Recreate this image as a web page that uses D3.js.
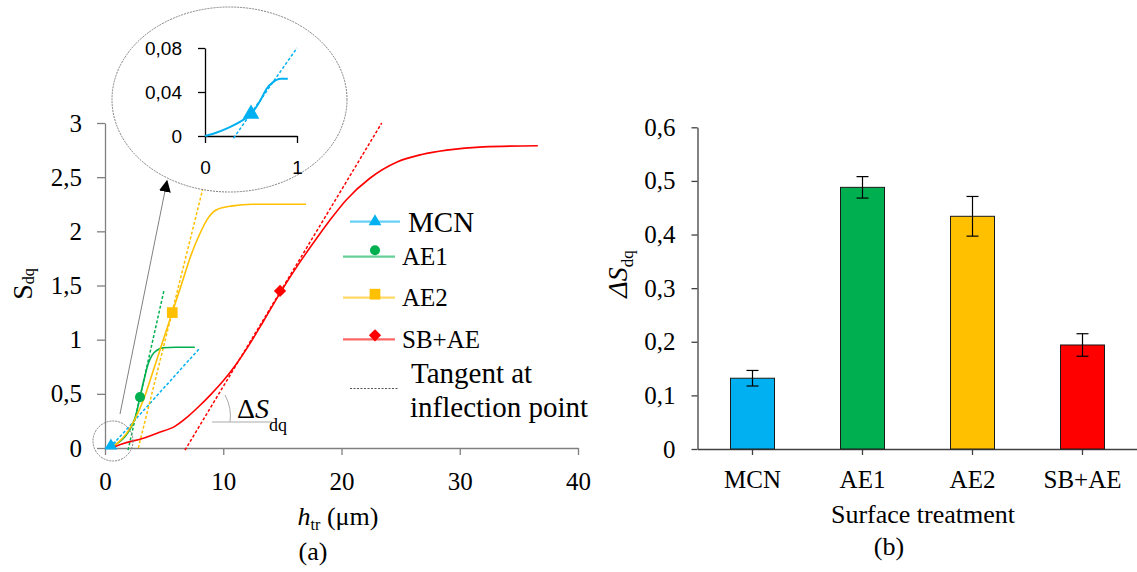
<!DOCTYPE html>
<html>
<head>
<meta charset="utf-8">
<script src="https://cdn.jsdelivr.net/npm/d3@7"></script>
<style>
  body { margin: 0; background: #fff; }
  svg text { font-family: "Liberation Serif", "Times New Roman", serif; }
  svg .inset text { font-family: "Liberation Sans", Arial, sans-serif; }
</style>
</head>
<body>
<script>
// ---- (a) Sdq curves ----
let mcnX = [0, 0.12, 0.24, 0.36, 0.5, 0.6, 0.67, 0.74, 0.82, 0.9]
let mcnY = [0, 0.003, 0.007, 0.012, 0.02, 0.032, 0.043, 0.049, 0.052, 0.052]
let ae1X = [0.5, 1.0, 1.27, 1.8, 2.25, 2.6, 2.96, 3.3, 3.66, 4.0, 4.37, 4.9, 6, 7.6]
let ae1Y = [0, 0.04, 0.06, 0.12, 0.2, 0.3, 0.47, 0.63, 0.78, 0.86, 0.9, 0.925, 0.93, 0.93]
let ae2X = [0.5, 1.0, 1.83, 2.5, 3.24, 4.1, 4.93, 5.69, 6.5, 7.24, 8.03, 8.7, 9.44, 10.8, 12.5, 17]
let ae2Y = [0, 0.04, 0.135, 0.26, 0.44, 0.72, 1.0, 1.25, 1.52, 1.77, 1.98, 2.12, 2.2, 2.235, 2.25, 2.25]
let sbaeX = [0.5, 1.5, 3.24, 4.5, 5.9, 7, 8, 9, 10, 11, 12, 13.4, 14.8, 16.2, 17.6, 19, 20.4, 22.4, 24.7, 26.8, 28.9, 32, 36.6]
let sbaeY = [0, 0.04, 0.09, 0.14, 0.2, 0.29, 0.39, 0.5, 0.62, 0.76, 0.92, 1.17, 1.43, 1.67, 1.89, 2.1, 2.29, 2.49, 2.64, 2.71, 2.75, 2.78, 2.79]

// inflection points [x, y] and tangent segments [x1, y1, x2, y2]
let inflections = [[0.5, 0.02], [2.96, 0.47], [5.69, 1.25], [14.8, 1.45]]
let tangents = [[0.4, 0, 8.0, 0.92], [1.95, -0.02, 5.0, 1.46], [2.82, 0, 8.31, 2.41], [6.76, -0.02, 23.4, 3.0]]
let insetTangent = [0.31, -0.002, 1.0, 0.08]

let seriesNames = ['MCN', 'AE1', 'AE2', 'SB+AE']
let seriesColors = ['#00B0F0', '#00B050', '#FFC000', '#FF0000']

let sdqTicks = [0, 0.5, 1, 1.5, 2, 2.5, 3]
let htrTicks = [0, 10, 20, 30, 40]
let insetYTicks = [0, 0.04, 0.08]
let insetXTicks = [0, 1]

// ---- (b) delta Sdq bars ----
let treatments = ['MCN', 'AE1', 'AE2', 'SB+AE']
let deltaSdq = [0.132, 0.488, 0.434, 0.194]
let deltaErr = [0.0145, 0.02, 0.037, 0.021]
let deltaTicks = [0, 0.1, 0.2, 0.3, 0.4, 0.5, 0.6]

let comma = d3.formatLocale({ decimal: ',', thousands: '.', grouping: [3], currency: ['', ''] })
let fmt = d => comma.format('~g')(d)

let svg = d3.select('body').append('svg')
  .attr('width', 1137)
  .attr('height', 572)

function styleAxis(a, color, size) {
  a.attr('font-family', null)
  a.selectAll('path, line').attr('stroke', color).attr('stroke-width', 1.3)
  a.selectAll('text').attr('font-size', size).attr('fill', '#000')
}

/* ===== chart (a) ===== */
let x = d3.scaleLinear().domain([0, 40]).range([105, 578])
let y = d3.scaleLinear().domain([0, 3]).range([448, 123])

let series = [
  { xs: mcnX, ys: mcnY },
  { xs: ae1X, ys: ae1Y },
  { xs: ae2X, ys: ae2Y },
  { xs: sbaeX, ys: sbaeY }
]

let yAxisA = svg.append('g')
  .attr('transform', 'translate(' + x(0) + ',0)')
  .call(d3.axisLeft(y).tickValues(sdqTicks).tickFormat(fmt).tickSize(8).tickPadding(15).tickSizeOuter(0))
let xAxisA = svg.append('g')
  .attr('transform', 'translate(0,' + y(0) + ')')
  .call(d3.axisBottom(x).tickValues(htrTicks).tickSize(7).tickPadding(17).tickSizeOuter(0))
styleAxis(yAxisA, '#808080', 25)
styleAxis(xAxisA, '#808080', 25)

let line = d3.line().x(d => x(d[0])).y(d => y(d[1])).curve(d3.curveMonotoneX)

// tangents (dashed)
svg.selectAll('.tangent')
  .data(tangents)
  .enter()
  .append('line')
  .attr('x1', d => x(d[0])).attr('y1', d => y(d[1]))
  .attr('x2', d => x(d[2])).attr('y2', d => y(d[3]))
  .attr('stroke', (d, i) => seriesColors[i])
  .attr('stroke-width', 1.5)
  .attr('stroke-dasharray', '3,2')

// curves
svg.selectAll('.curve')
  .data(series)
  .enter()
  .append('path')
  .attr('d', s => line(s.xs.map((v, i) => [v, s.ys[i]])))
  .attr('fill', 'none')
  .attr('stroke', (d, i) => seriesColors[i])
  .attr('stroke-width', 1.6)

let symbolTypes = [d3.symbolTriangle, d3.symbolCircle, d3.symbolSquare, d3.symbolSquare]
let symbolSizes = [70, 80, 115, 75]
let symbolRot = [0, 0, 0, 45]

function marker(g, i, cx, cy, size) {
  g.append('path')
    .attr('d', d3.symbol().type(symbolTypes[i]).size(size || symbolSizes[i])())
    .attr('transform', 'translate(' + cx + ',' + cy + ') rotate(' + symbolRot[i] + ')')
    .attr('fill', seriesColors[i])
}
inflections.forEach((p, i) => marker(svg, i, x(p[0]), y(p[1])))

// zoom circle round the origin, and the arrow to the inset
svg.append('circle')
  .attr('cx', 113).attr('cy', 441).attr('r', 20)
  .attr('fill', 'none').attr('stroke', '#808080').attr('stroke-width', 1).attr('stroke-dasharray', '2,1')

svg.append('defs').append('marker')
  .attr('id', 'arrow')
  .attr('viewBox', '0 0 10 10')
  .attr('refX', 9).attr('refY', 5)
  .attr('markerWidth', 12).attr('markerHeight', 12)
  .attr('markerUnits', 'userSpaceOnUse')
  .attr('orient', 'auto')
  .append('path').attr('d', 'M0,0 L10,5 L0,10 Z').attr('fill', '#000')

svg.append('line')
  .attr('x1', 120).attr('y1', 414).attr('x2', 167).attr('y2', 181)
  .attr('stroke', '#808080').attr('stroke-width', 1)
  .attr('marker-end', 'url(#arrow)')

/* inset */
let inset = svg.append('g').attr('class', 'inset')
inset.append('ellipse')
  .attr('cx', 229.5).attr('cy', 99.5).attr('rx', 117.5).attr('ry', 92.5)
  .attr('fill', '#fff').attr('stroke', '#808080').attr('stroke-width', 1).attr('stroke-dasharray', '2,1')

let xi = d3.scaleLinear().domain([0, 1]).range([205, 297])
let yi = d3.scaleLinear().domain([0, 0.08]).range([136, 48])

let yAxisI = inset.append('g')
  .attr('transform', 'translate(' + xi(0) + ',0)')
  .call(d3.axisLeft(yi).tickValues(insetYTicks).tickFormat(d => d === 0 ? '0' : comma.format('.2f')(d)).tickSize(7).tickPadding(16).tickSizeOuter(0))
let xAxisI = inset.append('g')
  .attr('transform', 'translate(0,' + yi(0) + ')')
  .call(d3.axisBottom(xi).tickValues(insetXTicks).tickFormat(d3.format('d')).tickSize(7).tickPadding(18).tickSizeOuter(0))
styleAxis(yAxisI, '#000', 19)
styleAxis(xAxisI, '#000', 19)

let lineI = d3.line().x(d => xi(d[0])).y(d => yi(d[1])).curve(d3.curveMonotoneX)
inset.append('line')
  .attr('x1', xi(insetTangent[0])).attr('y1', yi(insetTangent[1]))
  .attr('x2', xi(insetTangent[2])).attr('y2', yi(insetTangent[3]))
  .attr('stroke', seriesColors[0]).attr('stroke-width', 1.5).attr('stroke-dasharray', '3,2')
inset.append('path')
  .attr('d', lineI(mcnX.map((v, i) => [v, mcnY[i]])))
  .attr('fill', 'none').attr('stroke', seriesColors[0]).attr('stroke-width', 2)
marker(inset, 0, xi(inflections[0][0]), yi(inflections[0][1]), 120)

/* delta Sdq annotation */
svg.append('path')
  .attr('d', 'M225,395 Q232,408 230,422')
  .attr('fill', 'none').attr('stroke', '#aaa').attr('stroke-width', 1)
svg.append('line')
  .attr('x1', 212).attr('y1', 422).attr('x2', 272).attr('y2', 422)
  .attr('stroke', '#aaa').attr('stroke-width', 1)
let dAnn = svg.append('text').attr('x', 237).attr('y', 418).attr('font-size', 28)
dAnn.append('tspan').text('Δ')
dAnn.append('tspan').attr('font-style', 'italic').text('S')
dAnn.append('tspan').attr('font-size', 18).attr('dy', 13).text('dq')

/* legend */
let legendY = [221.7, 256.7, 297.7, 339.3]
let legendMarkerDy = [0, -6.5, -3.5, -4]
let legendTextX = [408, 402, 402, 402]
let legendTextY = [232, 265, 306, 348]
let legendSize = [29, 25, 25, 25]
let legend = svg.append('g')
seriesNames.forEach((name, i) => {
  legend.append('line')
    .attr('x1', i === 0 ? 350 : 343).attr('x2', i === 0 ? 400 : 395)
    .attr('y1', legendY[i]).attr('y2', legendY[i])
    .attr('stroke', seriesColors[i]).attr('stroke-opacity', 0.6).attr('stroke-width', 2.2)
  marker(legend, i, 375, legendY[i] + legendMarkerDy[i])
  legend.append('text')
    .attr('x', legendTextX[i]).attr('y', legendTextY[i])
    .attr('font-size', legendSize[i])
    .text(name)
})
legend.append('line')
  .attr('x1', 350).attr('x2', 399).attr('y1', 388.5).attr('y2', 388.5)
  .attr('stroke', '#555').attr('stroke-width', 1).attr('stroke-dasharray', '2,1.5')
legend.append('text').attr('x', 411).attr('y', 383).attr('font-size', 29).text('Tangent at')
legend.append('text').attr('x', 410).attr('y', 417).attr('font-size', 29).text('inflection point')

// axis titles (a)
let yTitleA = svg.append('text')
  .attr('transform', 'translate(32,284) rotate(-90)')
  .attr('text-anchor', 'middle')
  .attr('font-size', 28)
yTitleA.append('tspan').text('S')
yTitleA.append('tspan').attr('font-size', 16).attr('dy', 2).text('dq')

let xTitleA = svg.append('text')
  .attr('x', 338).attr('y', 525)
  .attr('text-anchor', 'middle')
  .attr('font-size', 26)
xTitleA.append('tspan').attr('font-style', 'italic').text('h')
xTitleA.append('tspan').attr('font-size', 16).attr('dy', 5).text('tr')
xTitleA.append('tspan').attr('dy', -5).text(' (μm)')

svg.append('text').attr('x', 313).attr('y', 560).attr('text-anchor', 'middle').attr('font-size', 26).text('(a)')

/* ===== chart (b) ===== */
let xb = d3.scaleBand().domain(treatments).range([697.5, 1137.5]).padding(0)
let yb = d3.scaleLinear().domain([0, 0.6]).range([449, 127.3])
let barW = xb.bandwidth() * 0.4

let yAxisB = svg.append('g')
  .attr('transform', 'translate(697.5,0)')
  .call(d3.axisLeft(yb).tickValues(deltaTicks).tickFormat(fmt).tickSize(6).tickPadding(16).tickSizeOuter(0))
let xAxisB = svg.append('g')
  .attr('transform', 'translate(0,' + yb(0) + ')')
  .call(d3.axisBottom(xb).tickSize(6).tickPadding(15).tickSizeOuter(0))
styleAxis(yAxisB, '#404040', 25)
styleAxis(xAxisB, '#404040', 25)

svg.selectAll('.bar')
  .data(treatments)
  .enter()
  .append('rect')
  .attr('x', d => xb(d) + xb.bandwidth() / 2 - barW / 2)
  .attr('y', (d, i) => yb(deltaSdq[i]))
  .attr('width', barW)
  .attr('height', (d, i) => yb(0) - yb(deltaSdq[i]))
  .attr('fill', (d, i) => seriesColors[i])
  .attr('stroke', '#1a1a1a')
  .attr('stroke-width', 1)

// error bars
let err = svg.selectAll('.err')
  .data(treatments)
  .enter()
  .append('g')
  .attr('stroke', '#000').attr('stroke-width', 1.2)
err.append('line')
  .attr('x1', d => xb(d) + xb.bandwidth() / 2).attr('x2', d => xb(d) + xb.bandwidth() / 2)
  .attr('y1', (d, i) => yb(deltaSdq[i] + deltaErr[i])).attr('y2', (d, i) => yb(deltaSdq[i] - deltaErr[i]))
err.selectAll('.cap')
  .data((d, i) => [[d, deltaSdq[i] + deltaErr[i]], [d, deltaSdq[i] - deltaErr[i]]])
  .enter()
  .append('line')
  .attr('x1', d => xb(d[0]) + xb.bandwidth() / 2 - 6).attr('x2', d => xb(d[0]) + xb.bandwidth() / 2 + 6)
  .attr('y1', d => yb(d[1])).attr('y2', d => yb(d[1]))

let yTitleB = svg.append('text')
  .attr('transform', 'translate(627,274) rotate(-90)')
  .attr('text-anchor', 'middle')
  .attr('font-size', 28)
  .attr('font-style', 'italic')
yTitleB.append('tspan').text('ΔS')
yTitleB.append('tspan').attr('font-style', 'normal').attr('font-size', 17).attr('dy', 6).text('dq')

svg.append('text').attr('x', 923).attr('y', 523).attr('text-anchor', 'middle').attr('font-size', 26).text('Surface treatment')
svg.append('text').attr('x', 889).attr('y', 555).attr('text-anchor', 'middle').attr('font-size', 26).text('(b)')
</script>
</body>
</html>
